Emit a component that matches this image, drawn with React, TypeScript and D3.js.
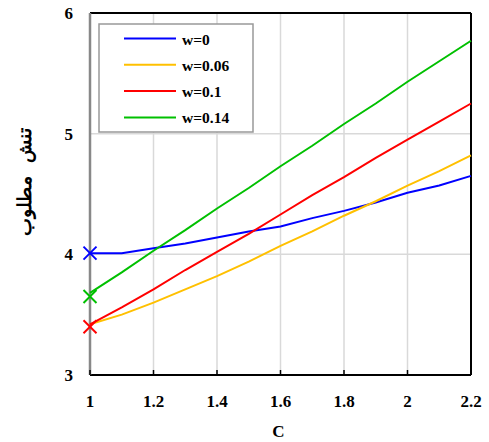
import React from "react";
import * as d3 from "d3";

// values
const cValues = [1, 1.1, 1.2, 1.3, 1.4, 1.5, 1.6, 1.7, 1.8, 1.9, 2, 2.1, 2.2];
const w0 = [4.01, 4.01, 4.05, 4.09, 4.14, 4.19, 4.23, 4.3, 4.36, 4.43, 4.51, 4.57, 4.65];
const w006 = [3.42, 3.5, 3.6, 3.71, 3.82, 3.94, 4.07, 4.19, 4.32, 4.44, 4.57, 4.69, 4.82];
const w01 = [3.42, 3.56, 3.71, 3.87, 4.02, 4.17, 4.33, 4.49, 4.64, 4.8, 4.95, 5.1, 5.25];
const w014 = [3.68, 3.85, 4.03, 4.2, 4.38, 4.55, 4.73, 4.9, 5.08, 5.25, 5.43, 5.6, 5.77];

const seriesNames = ["w=0", "w=0.06", "w=0.1", "w=0.14"];
const seriesColors = ["#0000ff", "#ffc000", "#ff0000", "#00c000"];

// X markers at C=1
const markerValues = [4.01, 3.65, 3.4];
const markerColors = ["#0000ff", "#00c000", "#ff0000"];

const xTicks = [1, 1.2, 1.4, 1.6, 1.8, 2, 2.2];
const yTicks = [3, 4, 5, 6];

const width = 489;
const height = 442;
const margin = { top: 13, right: 18, bottom: 67, left: 90 };

const font = "'Liberation Serif', 'Times New Roman', serif";

export default function App() {
  const x = d3.scaleLinear().domain([1, 2.2]).range([margin.left, width - margin.right]);
  const y = d3.scaleLinear().domain([3, 6]).range([height - margin.bottom, margin.top]);

  const all = [w0, w006, w01, w014];
  const line = d3
    .line<number>()
    .x((_, i) => x(cValues[i]))
    .y((d) => y(d));

  const x0 = x.range()[0];
  const x1 = x.range()[1];
  const yBot = y.range()[0];
  const yTop = y.range()[1];

  return (
    <svg width={width} height={height} style={{ position: "absolute", left: 0, top: 0 }}>
      <rect width={width} height={height} fill="#fff" />
      {/* grid */}
      {xTicks.slice(1, -1).map((t) => (
        <line key={"gx" + t} x1={x(t)} x2={x(t)} y1={yTop} y2={yBot} stroke="#d9d9d9" strokeWidth={1.5} />
      ))}
      {yTicks.slice(1, -1).map((t) => (
        <line key={"gy" + t} x1={x0} x2={x1} y1={y(t)} y2={y(t)} stroke="#d9d9d9" strokeWidth={1.5} />
      ))}
      {/* frame */}
      <line x1={x0} x2={x1} y1={yTop} y2={yTop} stroke="#000" strokeWidth={2} />
      <line x1={x1} x2={x1} y1={yTop} y2={yBot} stroke="#000" strokeWidth={2} />
      <line x1={x0} x2={x1} y1={yBot} y2={yBot} stroke="#000" strokeWidth={2} />
      <line x1={x0} x2={x0} y1={yTop} y2={yBot} stroke="#888" strokeWidth={2.5} />
      {xTicks.map((t) => (
        <line key={"tx" + t} x1={x(t)} x2={x(t)} y1={yBot} y2={yBot - 5} stroke="#000" strokeWidth={1.5} />
      ))}

      {/* series */}
      {all.map((s, i) => (
        <path key={seriesNames[i]} d={line(s) || ""} fill="none" stroke={seriesColors[i]} strokeWidth={2} />
      ))}

      {/* markers */}
      {markerValues.map((v, i) => (
        <g key={"m" + i} transform={`translate(${x(1)},${y(v)})`} stroke={markerColors[i]} strokeWidth={2}>
          <line x1={-6.5} y1={-6.5} x2={6.5} y2={6.5} />
          <line x1={-6.5} y1={6.5} x2={6.5} y2={-6.5} />
        </g>
      ))}

      {/* tick labels */}
      {xTicks.map((t) => (
        <text key={"lx" + t} x={x(t)} y={yBot + 32} textAnchor="middle" fontFamily={font} fontWeight="bold" fontSize={17}>
          {d3.format("")(t)}
        </text>
      ))}
      {yTicks.map((t) => (
        <text key={"ly" + t} x={x0 - 17} y={y(t) + 6} textAnchor="end" fontFamily={font} fontWeight="bold" fontSize={17}>
          {t}
        </text>
      ))}
      <text x={(x0 + x1) / 2 - 2} y={437} textAnchor="middle" fontFamily={font} fontWeight="bold" fontSize={17}>
        C
      </text>
      <text
        transform={`translate(31,${182}) rotate(-90)`}
        textAnchor="middle"
        fontFamily={font}
        fontWeight="bold"
        fontSize={18.5}
        style={{ whiteSpace: "pre" }}
      >
        تنش   مطلوب
      </text>

      {/* legend */}
      <rect x={99} y={24} width={154} height={108} fill="#fff" stroke="#999" strokeWidth={1.5} />
      {seriesNames.map((n, i) => {
        const ly = 38.5 + i * 26.3;
        return (
          <g key={"lg" + n}>
            <line x1={124} x2={176} y1={ly} y2={ly} stroke={seriesColors[i]} strokeWidth={2} />
            <text x={182} y={ly + 6} fontFamily={font} fontWeight="bold" fontSize={15.5}>
              {n}
            </text>
          </g>
        );
      })}
    </svg>
  );
}
